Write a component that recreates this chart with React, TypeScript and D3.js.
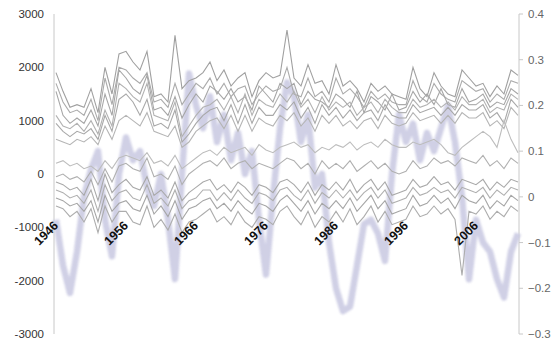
import React from "react";
import * as d3 from "d3";

const years: number[] = d3.range(1946, 2013);
const yearLabels = ["1946", "1956", "1966", "1976", "1986", "1996", "2006"];
const leftTicks = [-3000, -2000, -1000, 0, 1000, 2000, 3000];
const rightTicks = [-0.3, -0.2, -0.1, 0, 0.1, 0.2, 0.3, 0.4];

// thick lavender series (right axis)
const index = [
  -0.05, -0.15, -0.21, -0.12, 0.0, 0.06, 0.1, -0.05, -0.13, 0.05,
  0.13, 0.08, 0.1, 0.02, -0.02, 0.05, -0.05, -0.18, 0.05, 0.27,
  0.2, 0.15, 0.22, 0.12, 0.18, 0.08, 0.14, 0.05, 0.1, -0.05,
  -0.17, 0.0, 0.15, 0.25, 0.22, 0.12, 0.18, 0.02, 0.05, -0.1,
  -0.2, -0.25, -0.24, -0.15, -0.06, -0.05, -0.08, -0.14, 0.05, 0.18,
  0.12, 0.16, 0.08, 0.14, 0.1, 0.15, 0.2, 0.12, 0.0, -0.18,
  -0.05, -0.1, -0.12, -0.18, -0.22, -0.12, -0.08,
];

// grey series (left axis)
const u1 = [
  1900, 1550, 1250, 1300, 1250, 1600, 1150, 2000, 1500, 2250,
  2300, 2100, 1950, 2300, 1450, 1500, 1350, 2600, 1600, 1750,
  1800, 1900, 2100, 1750, 1950, 1650, 1800, 1900, 1450, 1750,
  1900, 1800, 1850, 2700, 1800, 1650, 2050, 1700, 1750, 1500,
  2050, 1650, 1750, 1600, 1350, 1700, 1550, 1650, 1500, 1450,
  1400, 2000, 1600, 1450, 1900, 1650, 1500, 1450, 1950, 1800,
  1650, 1700, 1450, 1650, 1500, 1950, 1850,
];
const u2 = [
  1700, 1350, 1150, 1200, 1100, 1400, 1000, 1800, 1300, 2000,
  1950, 1800, 1700, 1900, 1350, 1400, 1250, 1700, 1300, 1500,
  1700, 1600, 1800, 1500, 1700, 1450, 1600, 1650, 1300, 1500,
  1650, 1550, 1600, 2000, 1500, 1450, 1800, 1450, 1550, 1350,
  1800, 1500, 1600, 1450, 1250, 1550, 1400, 1500, 1350, 1300,
  1300, 1750, 1450, 1350, 1700, 1500, 1400, 1350, 1750, 1650,
  1550, 1600, 1350, 1500, 1400, 1750, 1700,
];
const u3 = [
  1550, 1100, 950, 1050, 950, 1200, 900, 1500, 1100, 1950,
  1800, 1600, 1500, 1850, 1200, 1250, 1100, 1450, 1050, 1300,
  1500, 1350, 1650, 1550, 1400, 1600, 1350, 1450, 1200, 1650,
  1500, 1350, 1700, 1600, 1700, 1300, 1550, 1400, 1350, 1250,
  1500, 1400, 1250, 1550, 1150, 1450, 1350, 1200, 1500, 1200,
  1250, 1550, 1350, 1500, 1300, 1600, 1300, 1250, 1600, 1350,
  1400, 1500, 1250, 1350, 1300, 1600, 1500,
];
const u4 = [
  1100, 900, 850, 950, 800, 1000, 750, 1200, 900, 1700,
  1600, 1450, 1350, 1700, 1100, 1050, 1000, 1350, 700, 900,
  1100, 1250, 1300, 1400, 1200, 1450, 1150, 1500, 1100, 1400,
  1300, 1250, 1500, 1350, 1550, 1250, 1400, 1150, 1450, 1200,
  1350, 1250, 1350, 1100, 1250, 1350, 1150, 1400, 1250, 1150,
  1150, 1400, 1250, 1300, 1400, 1250, 1350, 1200, 1450, 1300,
  1300, 1400, 1150, 1250, 1200, 1500, 1400,
];
const u5 = [
  950, 800, 700, 800, 750, 850, 650, 1100, 800, 1400,
  1500, 1350, 1100, 1400, 900, 950, 850, 1200, 600, 750,
  950, 1100, 1200, 1250, 1000, 1300, 950, 1300, 950, 1250,
  1100, 1100, 1300, 1200, 1350, 1050, 1250, 950, 1300, 1100,
  1250, 1050, 1200, 1000, 1150, 1200, 1000, 1300, 1100, 1050,
  1050, 1300, 1150, 1200, 1250, 1100, 1250, 1100, 1300, 1200,
  1200, 1300, 1050, 1150, 950, 1400, 1250,
];
const u6 = [
  650, 600, 550, 650, 600, 700, 550, 900, 650, 1000,
  1100, 1000, 900, 1150, 800, 750, 700, 900, 500, 600,
  800, 900, 1000, 1050, 850, 1100, 800, 1100, 800, 1050,
  950, 900, 1100, 1000, 1150, 900, 1050, 800, 1100, 950,
  1100, 900, 1000, 850, 1000, 1050, 850, 1100, 950, 900,
  950, 1150, 1000, 1050, 1100, 950, 1100, 950, 1150, 1050,
  1050, 1150, 900, 1000, 850, 1250, 1100,
];
const m1 = [
  200, 250, 150, 200, 100, 150, 50, 250, 100, 300,
  350, 300, 250, 400, 200, 250, 150, 350, 100, 200,
  300, 400, 450, 350, 500, 400, 450, 500, 350, 550,
  450, 400, 500, 550, 600, 500, 550, 400, 500, 450,
  550, 500, 600, 450, 550, 600, 500, 650, 550, 500,
  500, 600, 550, 600, 650, 550, 400, 350, 500, 600,
  700, 800, 700, 500, 1000, 650, 400,
];
const m2 = [
  -50, 0, -100, -50, -150, 50, -200, 100, -150, 150,
  200, 100, 50, 300, -50, 0, -100, 150, -200, 0,
  100, 200, 250, 150, 300, 100, 200, 250, 100, 200,
  150, 100, 200, 300, 250, 100, 200, 0, 250, 100,
  200, 100, 250, 50, 150, 250, 100, 200, 50, 0,
  50, 250, 100, 150, 300, 200, 250, 150, 300, 250,
  200, 350, 150, 250, 100, 300, 200,
];
const l1 = [
  -150, -200, -300, -250, -400, -100, -500, 0, -350, -200,
  -100, -250, -300, -50, -400, -300, -450, -150, -500, -350,
  -250, -150, -100, -300, -200, -350, -150, -250, -400, -200,
  -250, -350, -150, -100, -200, -350, -150, -400, -200, -300,
  -150, -300, -100, -350, -200, -100, -300, -150, -400, -350,
  -300, -100, -250, -200, -50, -200, -150, -300, -100, -150,
  -200, -100, -300, -150, -250, -100, -150,
];
const l2 = [
  -300, -350, -450, -400, -550, -300, -700, -200, -500, -350,
  -300, -450, -500, -200, -550, -450, -600, -300, -650, -500,
  -450, -300, -300, -500, -350, -500, -300, -450, -550, -350,
  -400, -500, -300, -250, -400, -500, -300, -550, -350, -450,
  -300, -450, -300, -500, -350, -250, -450, -300, -550, -500,
  -450, -250, -400, -350, -250, -350, -300, -450, -250, -300,
  -350, -250, -450, -300, -400, -250, -300,
];
const l3 = [
  -450, -500, -600, -550, -700, -500, -900, -400, -700, -550,
  -500, -650, -700, -400, -750, -600, -800, -500, -850, -650,
  -600, -500, -450, -650, -550, -700, -500, -650, -750, -550,
  -600, -700, -500, -400, -550, -700, -500, -750, -550, -650,
  -500, -650, -450, -700, -550, -400, -650, -500, -750, -700,
  -650, -400, -600, -550, -400, -550, -450, -650, -400, -500,
  -550, -400, -650, -500, -600, -400, -500,
];
const l4 = [
  -600, -650, -800, -700, -900, -650, -1100, -600, -900, -700,
  -700, -900, -950, -600, -1000, -850, -1050, -750, -1100, -900,
  -850, -750, -650, -900, -800, -950, -700, -900, -1000, -800,
  -850, -950, -700, -600, -800, -950, -700, -1000, -800, -900,
  -700, -900, -650, -950, -800, -600, -900, -700, -950, -900,
  -850, -600, -800, -750, -600, -750, -650, -850, -1900, -700,
  -750, -600, -850, -700, -800, -600, -700,
];

const greySeries = [u1, u2, u3, u4, u5, u6, m1, m2, l1, l2, l3, l4];
const greyColors = ["#a0a0a0", "#ababab", "#a6a6a6", "#b2b2b2", "#a8a8a8", "#b5b5b5", "#bdbdbd", "#b0b0b0", "#a9a9a9", "#afafaf", "#a6a6a6", "#adadad"];

const W = 560;
const H = 343;

export default function App() {
  const x = d3.scaleLinear().domain([1946, 2012]).range([56, 518]);
  const yL = d3.scaleLinear().domain([-3000, 3000]).range([334, 14]);
  const yR = d3.scaleLinear().domain([-0.3, 0.4]).range([334, 14]);

  const greyLine = (vals: number[]) =>
    d3
      .line<number>()
      .x((_, i) => x(years[i]))
      .y((d) => yL(d))(vals) || "";
  const indexLine =
    d3
      .line<number>()
      .x((_, i) => x(years[i]))
      .y((d) => yR(d))(index) || "";

  const font = "'Liberation Sans', Arial, sans-serif";
  const fmtR = (v: number) => (Math.abs(v) < 1e-9 ? "0" : d3.format(".1f")(v));

  return (
    <svg width={W} height={H} style={{ position: "absolute", left: 0, top: 0, background: "#fff" }}>
      <defs>
        <filter id="soft" x="-5%" y="-5%" width="110%" height="110%">
          <feGaussianBlur stdDeviation="0.9" />
        </filter>
        <filter id="soft2" x="-5%" y="-5%" width="110%" height="110%">
          <feGaussianBlur stdDeviation="0.35" />
        </filter>
      </defs>
      {/* axes lines */}
      <line x1={54} x2={54} y1={14} y2={334} stroke="#c8c8c8" strokeWidth={1} />
      <line x1={519} x2={519} y1={14} y2={334} stroke="#c8c8c8" strokeWidth={1} />
      {rightTicks.map((t) => (
        <line key={"rt" + t} x1={519} x2={523} y1={yR(t)} y2={yR(t)} stroke="#c8c8c8" />
      ))}

      {/* lavender series */}
      <path d={indexLine} fill="none" stroke="#cbcbe3" strokeWidth={6.5} strokeLinejoin="round" opacity={0.9} filter="url(#soft)" />

      {/* grey series */}
      <g filter="url(#soft2)">
        {greySeries.map((s, i) => (
          <path key={"g" + i} d={greyLine(s)} fill="none" stroke={greyColors[i]} strokeWidth={1.1} />
        ))}
      </g>

      {/* left ticks */}
      {leftTicks.map((t) => (
        <text key={"l" + t} x={44} y={yL(t)} dy="0.35em" textAnchor="end" fontSize={11.5} fill="#333" fontFamily={font}>
          {t}
        </text>
      ))}
      {/* right ticks */}
      {rightTicks.map((t) => (
        <text key={"r" + t} x={528} y={yR(t)} dy="0.35em" textAnchor="start" fontSize={11.5} fill="#666" fontFamily={font}>
          {fmtR(t)}
        </text>
      ))}
      {/* year labels */}
      {yearLabels.map((lab) => {
        const px = x(+lab) + 3;
        const py = yL(-1000) - 1;
        return (
          <text
            key={lab}
            x={px}
            y={py}
            transform={`rotate(-45 ${px} ${py})`}
            textAnchor="end"
            fontSize={12.5}
            fontWeight="bold"
            fill="#111"
            fontFamily={font}
          >
            {lab}
          </text>
        );
      })}
    </svg>
  );
}
